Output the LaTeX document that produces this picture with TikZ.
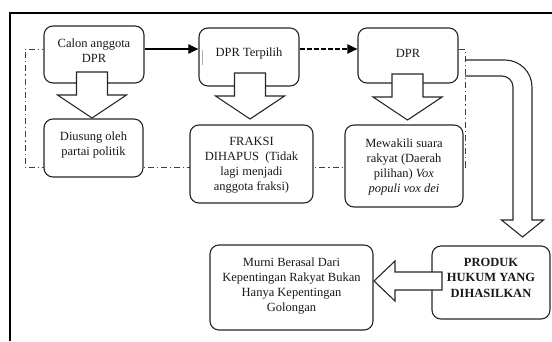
\documentclass[tikz,border=0pt]{standalone}
\usepackage{fontspec}
\setmainfont{Liberation Serif}
\usetikzlibrary{arrows.meta,calc,backgrounds}

\tikzset{
  blockdown/.pic={
    \draw[blk] (-15.5,0) -- (15.5,0) -- (15.5,23) -- (34.5,23) -- (0,46)
      -- (-34.5,23) -- (-15.5,23) -- cycle;
  }
}

\begin{document}
\begin{tikzpicture}[x=1pt,y=-1pt,
  box/.style={draw=black!85, line width=1.1pt, rounded corners=9pt, fill=white, inner sep=0pt},
  txt/.style={align=center, font=\fontsize{12.5}{15}\selectfont, text=black!90, inner sep=0pt},
  boldtxt/.style={txt, font=\fontsize{12.5}{15.5}\selectfont\bfseries},
  blk/.style={draw=black!85, line width=1.1pt, fill=white, line join=miter},
  flow/.style={draw=black, line width=2pt, -{Triangle[length=10pt,width=9pt]}},
  loopline/.style={draw=black!75, line width=0.9pt, dash pattern=on 6pt off 3pt on 1.2pt off 3pt}
]
\useasboundingbox (0,0) rectangle (552,341);

% outer frame (top and left edges)
\draw[line width=2pt] (10,341) -- (10,13) -- (552,13);

\coordinate (rowA) at (0,49);

% rounded boxes
\node[box, minimum width=100pt, minimum height=57pt] (b1) at (94,54.5) {};
\node[box, minimum width=100pt, minimum height=58pt] (b3) at (249,57) {};
\node[box, minimum width=100pt, minimum height=55pt] (b5) at (408,55.5) {};
\node[box, minimum width=99pt, minimum height=58pt] (b2) at (93.5,148) {};
\node[box, minimum width=123pt, minimum height=78pt] (b4) at (251.5,164) {};
\node[box, minimum width=118pt, minimum height=82pt] (b6) at (404,166) {};
\node[box, minimum width=118pt, minimum height=73pt] (b7) at (491,282.5) {};
\node[box, minimum width=163pt, minimum height=85pt] (b8) at (291.5,287.5) {};

% dash-dot loop, running behind the boxes
\begin{scope}[on background layer]
\draw[loopline] (b5.east |- rowA) -- (465,49) -- (465,167) -- (25,167) -- (25,49) -- (b1.west |- rowA);
\end{scope}

% small mark inside the second box
\draw[black!30, line width=0.8pt] (202,50) -- (202,65);

% flow arrows along the top row
\draw[flow] (b1.east |- rowA) -- (b3.west |- rowA);
\draw[flow, dash pattern=on 5pt off 2pt] (b3.east |- rowA) -- (b5.west |- rowA);

% hollow block arrows
\pic at (92,72) {blockdown};
\pic at (250,73) {blockdown};
\pic at (407.5,74) {blockdown};

\draw[blk] (442,272) -- (395,272) -- (395,261) -- (374,281) -- (395,301)
  -- (395,290) -- (442,290) -- cycle;

% bent arrow from DPR down to the product box
\draw[draw=black!85, line width=1.1pt, line join=miter]
  (465,60) -- (505,60) arc[start angle=270, end angle=360, radius=27]
  -- (532,220) -- (543.5,220) -- (522.5,237) -- (501.5,220) -- (513,220)
  -- (513,87) arc[start angle=0, end angle=-90, radius=11] -- (465,76);

% texts
\node[txt] (t1) at (94,51) {Calon anggota\\DPR};
\node[txt] (t3) at (249,53) {DPR Terpilih};
\node[txt] (t5) at (408,53) {DPR};
\node[txt] (t2) at (93.5,144.5) {Diusung oleh\\partai politik};
\node[txt] (t4) at (251.5,165) {FRAKSI\\DIHAPUS~ (Tidak\\lagi menjadi\\anggota fraksi)};
\node[txt] (t6) at (404,166.5) {Mewakili suara\\rakyat (Daerah\\pilihan) \textit{Vox}\\\textit{populi vox dei}};
\node[boldtxt] (t7) at (491,277.5) {PRODUK\\HUKUM YANG\\DIHASILKAN};
\node[txt] (t8) at (291.5,286.5) {Murni Berasal Dari\\Kepentingan Rakyat Bukan\\Hanya Kepentingan\\Golongan};
\end{tikzpicture}
\end{document}
